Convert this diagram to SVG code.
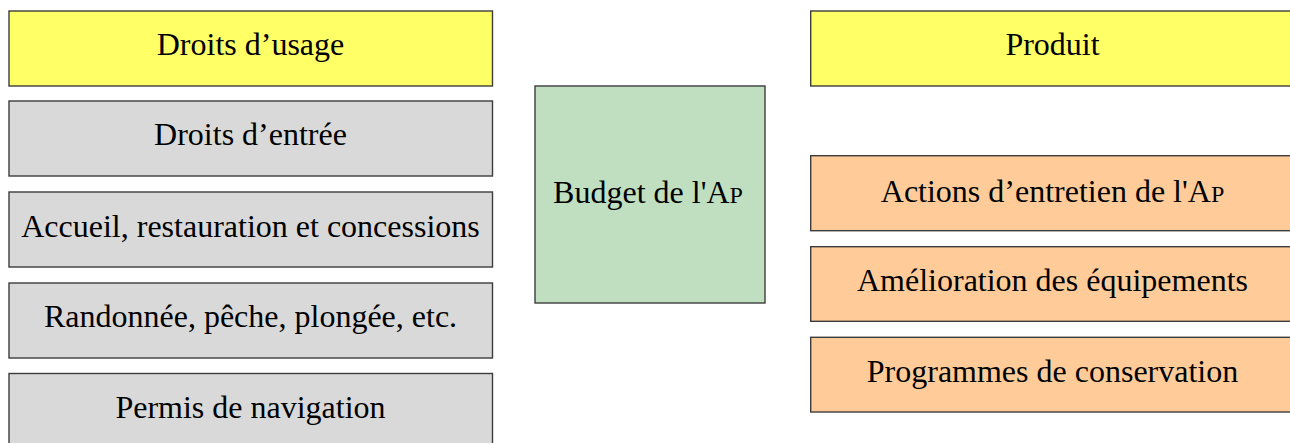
<svg xmlns="http://www.w3.org/2000/svg" width="1290" height="443" viewBox="0 0 1290 443">
<style>
.b{stroke:#3c3c3c;stroke-width:1.4}
.y{fill:#ffff66}
.g{fill:#d9d9d9}
.gr{fill:#c0dfc0}
.o{fill:#ffcc99}
.t{font-size:32px;fill:#000;text-anchor:middle}
.sc{font-size:24px}
</style>
<rect width="1290" height="443" fill="#fff"/>
<g id="connectors"></g>
<g font-family="'Liberation Serif', Tinos, 'Times New Roman', 'DejaVu Serif', serif">
<g id="droits-usage"><rect class="b y" x="9" y="11" width="483.5" height="75"/><text class="t" x="250.5" y="55">Droits d’usage</text></g>
<g id="droits-entree"><rect class="b g" x="9" y="101" width="483.5" height="75"/><text class="t" x="250.5" y="145">Droits d’entrée</text></g>
<g id="accueil"><rect class="b g" x="9" y="192" width="483.5" height="75"/><text class="t" x="250.5" y="237">Accueil, restauration et concessions</text></g>
<g id="randonnee"><rect class="b g" x="9" y="283" width="483.5" height="75"/><text class="t" x="250.5" y="327">Randonnée, pêche, plongée, etc.</text></g>
<g id="permis"><rect class="b g" x="9" y="373.5" width="483.5" height="75"/><text class="t" x="250.5" y="418">Permis de navigation</text></g>
<g id="budget"><rect class="b gr" x="535" y="86" width="230" height="217"/><text class="t" x="648" y="203">Budget de l'A<tspan class="sc">P</tspan></text></g>
<g id="produit"><rect class="b y" x="810.7" y="11" width="490" height="75"/><text class="t" x="1052.5" y="55">Produit</text></g>
<g id="actions"><rect class="b o" x="810.7" y="155.7" width="490" height="75"/><text class="t" x="1052.5" y="201.5">Actions d’entretien de l'A<tspan class="sc">P</tspan></text></g>
<g id="amelioration"><rect class="b o" x="810.7" y="246.7" width="490" height="74.6"/><text class="t" x="1052.5" y="291">Amélioration des équipements</text></g>
<g id="programmes"><rect class="b o" x="810.7" y="337.3" width="490" height="74.7"/><text class="t" x="1052.5" y="381.5">Programmes de conservation</text></g>
</g>
</svg>
